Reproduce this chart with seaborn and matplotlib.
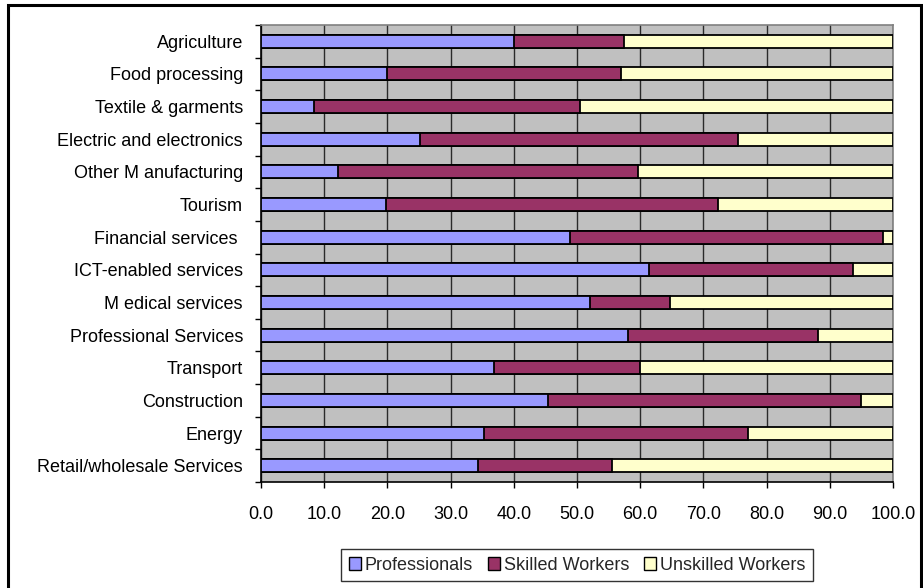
import matplotlib
matplotlib.use("Agg")
import matplotlib.pyplot as plt
from matplotlib.patches import Patch, Rectangle
from matplotlib.ticker import FixedLocator, FormatStrFormatter
import seaborn as sns
import pandas as pd
import numpy as np

categories = ["Agriculture", "Food processing", "Textile & garments",
              "Electric and electronics", "Other M anufacturing", "Tourism",
              "Financial services ", "ICT-enabled services", "M edical services",
              "Professional Services", "Transport", "Construction", "Energy",
              "Retail/wholesale Services"]
professionals = [40.0, 20.0, 8.4, 25.2, 12.2, 19.8, 48.9, 61.4, 52.0, 58.0, 36.9, 45.4, 35.3, 34.4]
skilled = [17.4, 37.0, 42.1, 50.2, 47.4, 52.5, 49.5, 32.3, 12.7, 30.1, 23.0, 49.6, 41.7, 21.1]
unskilled = [100 - p - s for p, s in zip(professionals, skilled)]
series_names = ["Professionals", "Skilled Workers", "Unskilled Workers"]
colors = ["#9999FF", "#993366", "#FFFFCC"]

df = pd.DataFrame({"cat": categories, "p": professionals, "s": skilled, "u": unskilled})
df["cum_ps"] = df["p"] + df["s"]
df["cum_all"] = df["cum_ps"] + df["u"]

sns.set_theme(style="white")
plt.rcParams["font.family"] = ["Liberation Sans", "DejaVu Sans"]
FS = 13

fig = plt.figure(figsize=(9.23, 5.88), dpi=100)
ax = fig.add_axes([261/923, 1-482/588, (893-261)/923, (482-25)/588])
ax.set_facecolor("#C0C0C0")

for col, c in [("cum_all", colors[2]), ("cum_ps", colors[1]), ("p", colors[0])]:
    sns.barplot(data=df, x=col, y="cat", orient="h", color=c, saturation=1,
                edgecolor="black", linewidth=1.3, width=0.4, ax=ax, zorder=3)

ax.set_xlim(0, 100)
ax.set_ylim(13.5, -0.5)
ax.set_xlabel("")
ax.set_ylabel("")
ax.xaxis.set_major_locator(FixedLocator(np.arange(0, 101, 10)))
ax.xaxis.set_major_formatter(FormatStrFormatter("%.1f"))
ax.grid(axis="x", color="#2a2a2a", linewidth=1.0, zorder=1)
ax.grid(axis="y", visible=False)
ax.set_axisbelow(True)

ax.yaxis.set_minor_locator(FixedLocator(np.arange(-0.5, 14, 1)))
ax.tick_params(axis="y", which="major", length=0, pad=13, labelsize=FS, labelcolor="black")
ax.tick_params(axis="y", which="minor", left=True, length=4.5, width=1, color="black", direction="out")
ax.tick_params(axis="x", which="major", bottom=True, length=4.5, width=1, color="black",
               direction="out", pad=13, labelsize=FS, labelcolor="black")

for side in ["left", "bottom"]:
    ax.spines[side].set_color("black")
    ax.spines[side].set_linewidth(1.2)
for side in ["top", "right"]:
    ax.spines[side].set_color("#808080")
    ax.spines[side].set_linewidth(1.2)

handles = [Patch(facecolor=c, edgecolor="black", linewidth=1.0) for c in colors]
leg = fig.legend(handles, series_names, loc="center", bbox_to_anchor=(577/923, 1-565/588),
                 ncol=3, frameon=True, fancybox=False, fontsize=FS, handlelength=0.7,
                 handleheight=0.7, handletextpad=0.2, columnspacing=0.8,
                 borderpad=0.4, edgecolor="black")
leg.get_frame().set_linewidth(1.0)

fig.patches.append(Rectangle((8/923, -0.05), (921-8)/923, 1.05 - 5/588,
                             transform=fig.transFigure, fill=False,
                             edgecolor="black", linewidth=2.2, zorder=10))

fig.savefig("out.png", dpi=100, facecolor="white")
